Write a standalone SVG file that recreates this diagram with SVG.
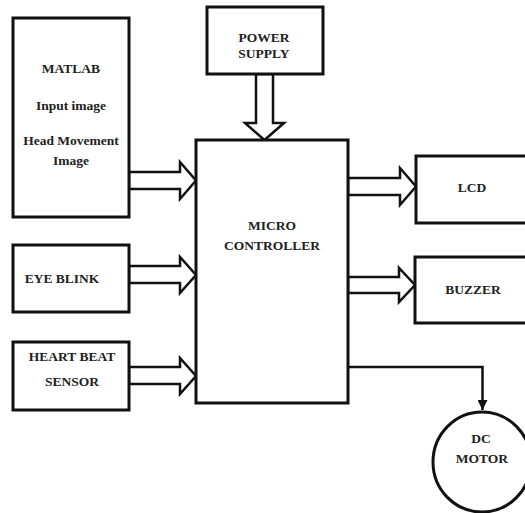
<svg xmlns="http://www.w3.org/2000/svg" width="525" height="513" viewBox="0 0 525 513">
<style>
.box{fill:#fff;stroke:#111;stroke-width:3}
.arr{fill:#fff;stroke:#111;stroke-width:2.5;stroke-linejoin:miter}
.ln{fill:none;stroke:#111;stroke-width:2.5}
text{font-family:"Liberation Serif","DejaVu Serif","Times New Roman",serif;font-size:13.5px;font-weight:bold;fill:#222;text-anchor:middle}
</style>
<defs>
<marker id="ah" viewBox="0 0 10 10" refX="10" refY="5" markerWidth="4" markerHeight="4" orient="auto" markerUnits="strokeWidth">
<path d="M0,0 L10,5 L0,10 z" fill="#111"/>
</marker>
</defs>
<rect width="525" height="513" fill="#fff"/>
<g id="connectors">
<polygon class="arr" points="129,172 180,172 180,162 196,180.5 180,199 180,189 129,189"/>
<polygon class="arr" points="129,266 180,266 180,257 196,275 180,293 180,283 129,283"/>
<polygon class="arr" points="129,367 180,367 180,358 196,376 180,394 180,384 129,384"/>
<polygon class="arr" points="256,74 256,123 245,123 264.5,140 284,123 273,123 273,74"/>
<polygon class="arr" points="348,178 400,178 400,168 416,186.5 400,205 400,195 348,195"/>
<polygon class="arr" points="348,277 399,277 399,268 415,285 399,302 399,293 348,293"/>
<path class="ln" d="M348,367 H482.5 V410" marker-end="url(#ah)"/>
</g>
<g id="matlab">
<rect class="box" x="13" y="18" width="116" height="199"/>
<text x="71" y="72.5">MATLAB</text>
<text x="71" y="109.5">Input image</text>
<text x="71" y="144.5">Head Movement</text>
<text x="71" y="164.5">Image</text>
</g>
<g id="eyeblink">
<rect class="box" x="13" y="245" width="116" height="67"/>
<text x="62" y="282.5">EYE BLINK</text>
</g>
<g id="heartbeat">
<rect class="box" x="13" y="342" width="116" height="68"/>
<text x="72" y="360.5">HEART BEAT</text>
<text x="72" y="385.5">SENSOR</text>
</g>
<g id="powersupply">
<rect class="box" x="207" y="7" width="116" height="67"/>
<text x="264" y="41.5">POWER</text>
<text x="264" y="57.5">SUPPLY</text>
</g>
<g id="microcontroller">
<rect class="box" x="196" y="140" width="152" height="263"/>
<text x="272" y="229.5">MICRO</text>
<text x="272" y="249.5">CONTROLLER</text>
</g>
<g id="lcd">
<rect class="box" x="416" y="156" width="120" height="67"/>
<text x="472" y="191.5">LCD</text>
</g>
<g id="buzzer">
<rect class="box" x="415" y="257" width="120" height="66"/>
<text x="473" y="293.5">BUZZER</text>
</g>
<g id="dcmotor">
<ellipse class="box" cx="482" cy="462" rx="49" ry="50"/>
<text x="481" y="442.5">DC</text>
<text x="482" y="462.5">MOTOR</text>
</g>
</svg>
